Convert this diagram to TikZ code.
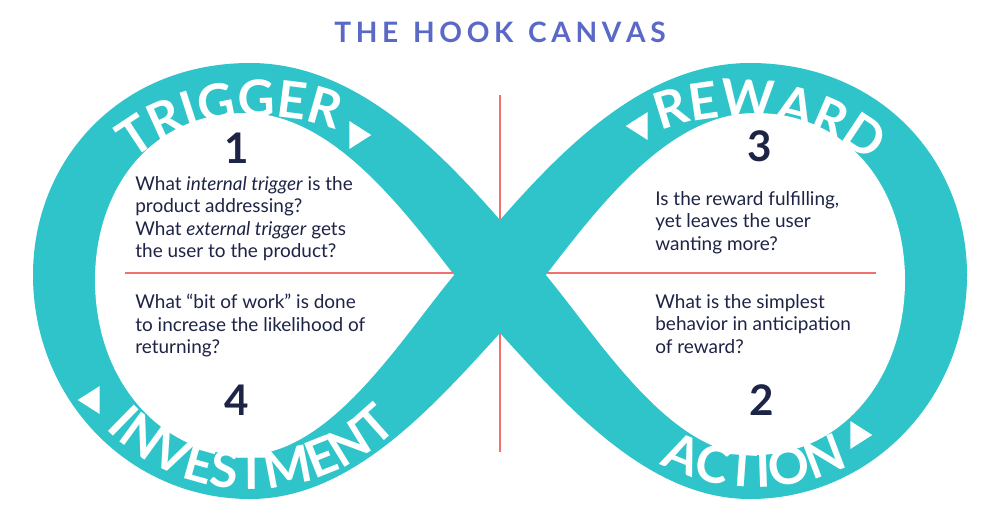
\documentclass[tikz,border=0pt]{standalone}
\usepackage{fontspec}
\setmainfont{Lato}
\usetikzlibrary{decorations.text,shapes.geometric}
\definecolor{teal}{HTML}{2EC4C9}
\definecolor{salmon}{HTML}{F2716E}
\definecolor{navy}{HTML}{1E2446}
\definecolor{titleblue}{HTML}{5A68C8}
\newcommand{\bandfont}{\fontsize{29}{29}\selectfont\bfseries}
\begin{document}
\begin{tikzpicture}[x=0.02cm,y=-0.02cm,
  body/.style={anchor=north west,align=left,text=navy,font=\fontsize{10.8}{12.8}\selectfont,inner sep=0pt},
  num/.style={text=navy,font=\fontsize{24}{24}\selectfont\bfseries},
  tri/.style={isosceles triangle,fill=white,minimum size=12.5pt,inner sep=0pt,isosceles triangle apex angle=65},
  redline/.style={salmon,line width=1.3pt}]
\useasboundingbox (0,0) rectangle (1000,512);
\fill[white] (0,0) rectangle (1000,512);
\node[text=titleblue,font=\fontsize{16}{16}\selectfont\bfseries] (title) at (500,32) {T\,H\,E\; H\,O\,O\,K\; C\,A\,N\,V\,A\,S};
% band
\fill[teal] (500,220) .. controls (430,140) and (350,63) .. (250,63)
  .. controls (120,63) and (33,160) .. (33,275)
  .. controls (33,400) and (130,499) .. (250,499)
  .. controls (350,499) and (430,410) .. (500,333)
  .. controls (570,410) and (650,499) .. (750,499)
  .. controls (870,499) and (967,400) .. (967,275)
  .. controls (967,160) and (880,63) .. (750,63)
  .. controls (650,63) and (570,140) .. (500,220) -- cycle;
\fill[white] (454,275) .. controls (400,205) and (330,113) .. (245,113)
  .. controls (150,113) and (95,190) .. (95,280)
  .. controls (95,380) and (160,455) .. (245,455)
  .. controls (330,455) and (400,340) .. (454,275) -- cycle;
\fill[white] (546,275) .. controls (600,205) and (670,113) .. (755,113)
  .. controls (850,113) and (905,190) .. (905,280)
  .. controls (905,380) and (840,455) .. (755,455)
  .. controls (670,455) and (600,340) .. (546,275) -- cycle;
% red lines
\coordinate (h1) at (125,273); \coordinate (h2) at (453,273);
\coordinate (h3) at (547,273); \coordinate (h4) at (876,273);
\coordinate (v1) at (500,95); \coordinate (v2) at (500,220);
\coordinate (v3) at (500,333); \coordinate (v4) at (500,452);
\draw[redline] (h1) -- (h2); \draw[redline] (h3) -- (h4);
\draw[redline] (v1) -- (v2); \draw[redline] (v3) -- (v4);
% band texts
\path[decorate,decoration={text along path,text align=center,text color=white,
  text={|\bandfont|TRIGGER}}] (70,258) .. controls (110,90) and (360,70) .. (420,208);
\path[decorate,decoration={text along path,text align=center,text color=white,
  text={|\bandfont|REWARD}}] (580,208) .. controls (640,70) and (890,90) .. (930,258);
\path[decorate,decoration={text along path,text align=center,text color=white,
  text={|\bandfont|INVESTMENT}}] (55,328) .. controls (100,543) and (400,543) .. (450,328);
\path[decorate,decoration={text along path,text align=center,text color=white,
  text={|\bandfont|ACTION}}] (555,328) .. controls (605,540) and (910,540) .. (950,328);
\node[tri,shape border rotate=-40] (t1) at (357,135) {};
\node[tri,shape border rotate=205] (t2) at (640,126) {};
\node[tri,shape border rotate=160] (t3) at (92,400) {};
\node[tri,shape border rotate=25] (t4) at (858,435) {};
% numbers
\node[num] (n1) at (237,148) {1};
\node[num] (n3) at (760,146) {3};
\node[num] (n4) at (237,400) {4};
\node[num] (n2) at (762,400) {2};
% body texts
\node[body] (q1) at (135,176) {What \textit{internal trigger} is the\\product addressing?\\What \textit{external trigger} gets\\the user to the product?};
\node[body] (q4) at (135,294) {What “bit of work” is done\\to increase the likelihood of\\returning?};
\node[body] (q3) at (655,191) {Is the reward fulfilling,\\yet leaves the user\\wanting more?};
\node[body] (q2) at (655,294) {What is the simplest\\behavior in anticipation\\of reward?};
\end{tikzpicture}
\end{document}
